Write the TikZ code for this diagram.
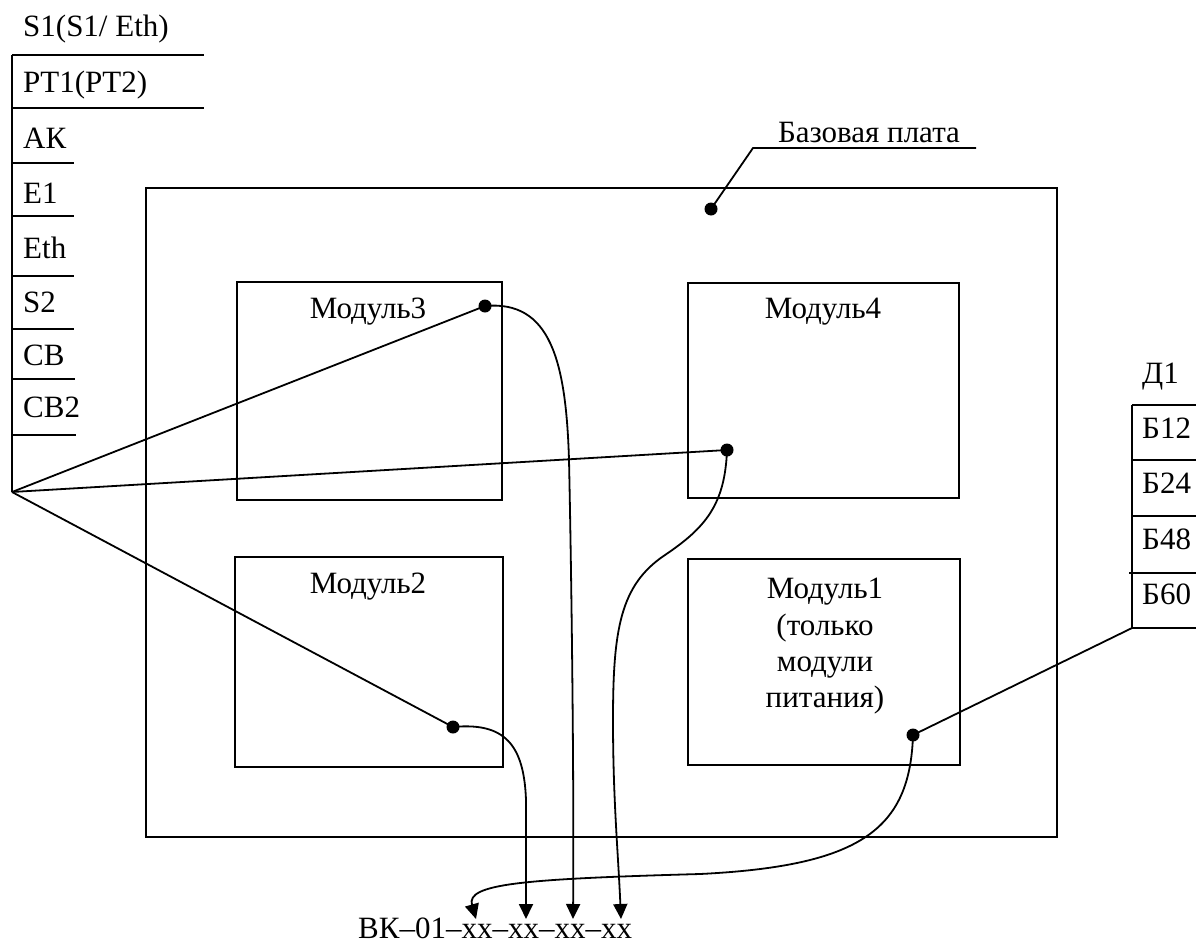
\documentclass[tikz,border=0pt]{standalone}
\usepackage{fontspec}
\setmainfont{Liberation Serif}
\usetikzlibrary{arrows.meta}
\begin{document}
\begin{tikzpicture}[x=1pt,y=-1pt,
  ln/.style={line width=1.8pt},
  box/.style={draw, line width=2pt, outer sep=0pt, inner sep=0pt, anchor=north west},
  lbl/.style={font=\fontsize{31}{36}\selectfont, inner sep=0pt},
  dot/.style={circle, fill=black, inner sep=0pt, minimum size=13pt},
  arr/.style={line width=1.8pt, -{Triangle[width=14pt,length=15pt]}}]
\useasboundingbox (0,0) rectangle (1196,945);
% base board and modules
\node[box, minimum width=911pt, minimum height=649pt] (base) at (146,188) {};
\node[box, minimum width=265pt, minimum height=218pt] (m3) at (237,282) {};
\node[box, minimum width=271pt, minimum height=215pt] (m4) at (688,283) {};
\node[box, minimum width=268pt, minimum height=210pt] (m2) at (235,557) {};
\node[box, minimum width=272pt, minimum height=206pt] (m1) at (688,559) {};
\node[lbl, anchor=base] (t3) at (368,318) {Модуль3};
\node[lbl, anchor=base] (t4) at (823,318) {Модуль4};
\node[lbl, anchor=base] (t2) at (368,593) {Модуль2};
\node[lbl, anchor=base] (t1a) at (825,598) {Модуль1};
\node[lbl, anchor=base] (t1b) at (825,635) {(только};
\node[lbl, anchor=base] (t1c) at (825,671) {модули};
\node[lbl, anchor=base] (t1d) at (825,707) {питания)};
% base label
\node[lbl, anchor=base] (tb) at (869,142) {Базовая плата};
\node[dot] (db) at (711,209) {};
\coordinate (lb1) at (753,148);
\coordinate (lb2) at (976,148);
\draw[ln] (db.center) -- (lb1) -- (lb2);
% left list
\coordinate (apex) at (12,492);
\coordinate (ltop) at (12,55);
\draw[ln] (ltop) -- (apex);
\draw[ln] (ltop) -- (204,55);
\draw[ln] (12,108) -- (204,108);
\draw[ln] (12,163) -- (74,163);
\draw[ln] (12,216) -- (74,216);
\draw[ln] (12,276) -- (74,276);
\draw[ln] (12,329) -- (74,329);
\draw[ln] (12,379) -- (75,379);
\draw[ln] (12,435) -- (76,435);
\node[lbl, anchor=base west] (l0) at (23,36) {S1(S1/ Eth)};
\node[lbl, anchor=base west] (l1) at (23,92) {PT1(PT2)};
\node[lbl, anchor=base west] (l2) at (23,148) {АК};
\node[lbl, anchor=base west] (l3) at (23,203) {E1};
\node[lbl, anchor=base west] (l4) at (23,258) {Eth};
\node[lbl, anchor=base west] (l5) at (23,312) {S2};
\node[lbl, anchor=base west] (l6) at (23,365) {СВ};
\node[lbl, anchor=base west] (l7) at (23,417) {СВ2};
% right list
\node[lbl, anchor=base west] (r0) at (1142,383) {Д1};
\draw[ln] (1132,405) -- (1132,628);
\draw[ln] (1132,405) -- (1196,405);
\draw[ln] (1132,460) -- (1196,460);
\draw[ln] (1132,516) -- (1196,516);
\draw[ln] (1129,573) -- (1196,573);
\coordinate (rbot) at (1132,628);
\draw[ln] (rbot) -- (1196,628);
\node[lbl, anchor=base west] (r1) at (1142,438) {Б12};
\node[lbl, anchor=base west] (r2) at (1142,493) {Б24};
\node[lbl, anchor=base west] (r3) at (1142,549) {Б48};
\node[lbl, anchor=base west] (r4) at (1142,604) {Б60};
% dots
\node[dot] (d3) at (485,306) {};
\node[dot] (d4) at (727,450) {};
\node[dot] (d2) at (453,727) {};
\node[dot] (d1) at (913,735) {};
% fan
\draw[ln] (apex) -- (d3.center);
\draw[ln] (apex) -- (d4.center);
\draw[ln] (apex) -- (d2.center);
\draw[ln] (d1.center) -- (rbot);
% bottom label
\node[lbl, anchor=base west] (code) at (358,938) {ВК–01–xx–xx–xx–xx};
\coordinate (a1) at (476,919);
\coordinate (a2) at (526,919);
\coordinate (a3) at (573,919);
\coordinate (a4) at (621,919);
% curves
\draw[arr] (d2.center) .. controls (505,722) and (524,745) .. (526,800) -- (a2);
\draw[arr] (d3.center) .. controls (550,300) and (566,360) .. (569,460) .. controls (572,600) and (574,800) .. (a3);
\draw[arr] (d4.center) .. controls (725,505) and (705,528) .. (665,555) .. controls (620,585) and (613,630) .. (613,720) .. controls (613,800) and (618,850) .. (a4);
\draw[arr] (d1.center) .. controls (910,830) and (860,866) .. (700,874) .. controls (520,879) and (466,884) .. (a1);
\end{tikzpicture}
\end{document}
